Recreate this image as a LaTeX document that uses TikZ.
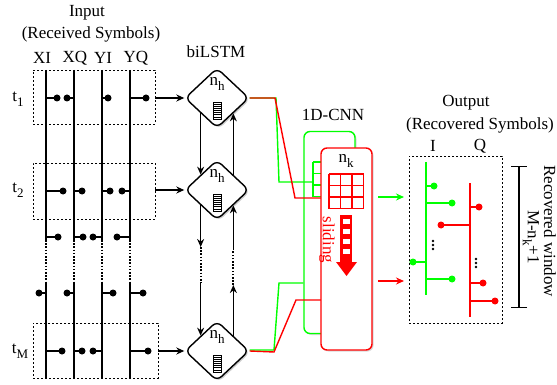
\documentclass[tikz,border=0pt]{standalone}
\usepackage{fontspec}
\setmainfont{Liberation Serif}
\usetikzlibrary{shapes.geometric,arrows.meta,calc,shadows,positioning}

\newcommand{\sub}[1]{\raisebox{-0.3em}{\fontsize{13}{14}\selectfont #1}}

\tikzset{
  lane/.style={line width=2pt},
  dotgap/.style={dash pattern=on 1.6pt off 1.6pt},
  rowbox/.style={draw, dash pattern=on 2pt off 2pt, line width=0.8pt, inner sep=0pt},
  symdot/.style={circle, fill, inner sep=0pt, minimum width=7pt},
  stemln/.style={line width=1.8pt},
  lstm/.style={diamond, draw, line width=1.4pt, rounded corners=6pt, fill=white, inner sep=0pt,
    minimum width=64pt, minimum height=60pt,
    drop shadow={shadow xshift=1.5pt, shadow yshift=-1.5pt, fill=black!40}},
  flow/.style={line width=1.6pt},
  cnnbox/.style={rectangle, rounded corners=6pt, line width=1.4pt, fill=white, inner sep=0pt,
    minimum width=51pt, minimum height=202pt,
    drop shadow={shadow xshift=1.5pt, shadow yshift=-1.5pt, fill=black!30}},
  link/.style={line width=1.4pt},
}

% 3x3 kernel grid: top left x, top left y, colour
\newcommand{\kgrid}[3]{%
  \foreach \i in {0,...,3} {
    \draw[#3, line width=1.2pt] (#1+\i*11.5,#2) -- (#1+\i*11.5,#2+34.5);
    \draw[#3, line width=1.2pt] (#1,#2+\i*11.5) -- (#1+34.5,#2+\i*11.5);
  }}

\begin{document}
\begin{tikzpicture}[x=1pt, y=-1pt, font=\fontsize{17}{20}\selectfont,
  >={Stealth[length=8pt,width=7pt]}]
\useasboundingbox (0,0) rectangle (557,385);

%% input symbols
\node (inTitle) at (87,13) {Input};
\node (inSub) at (91,34) {(Received Symbols)};
\node (colXI) at (42,58) {XI};
\node (colXQ) at (75,58) {XQ};
\node (colYI) at (103,58) {YI};
\node (colYQ) at (136,58) {YQ};

\foreach \c in {46,74,102,130} {
  \draw[lane] (\c,70) -- (\c,240);
  \draw[lane, dotgap] (\c,240) -- (\c,282);
  \draw[lane] (\c,282) -- (\c,378);
}

\foreach \c/\d/\y in {46/57/98, 74/67/98, 102/108/98, 130/146/98,
                      46/63/191, 74/82/191, 102/110/191, 130/122/191,
                      46/58/237, 74/83/237, 102/93/237, 130/117/237,
                      46/39/293, 74/67/293, 102/113/293, 130/143/293,
                      46/62/351, 74/82/351, 102/93/351, 130/148/351}
  \draw[stemln] (\c,\y) -- (\d,\y) node[symdot] {};

\node[rowbox, minimum width=122pt, minimum height=54pt] (in1) at (94,97) {};
\node[rowbox, minimum width=122pt, minimum height=56pt] (in2) at (94,191) {};
\node[rowbox, minimum width=125pt, minimum height=55pt] (inM) at (95.5,350.5) {};

\node (t1) at (18,99) {t\sub{1}};
\node (t2) at (18,190) {t\sub{2}};
\node (tM) at (20,351) {t\sub{M}};

%% biLSTM
\node (lstmTitle) at (216,52) {biLSTM};
\node[lstm] (h1) at (217,98) {};
\node[lstm] (h2) at (217,190) {};
\node[lstm] (hM) at (217,351) {};

\foreach \h in {h1,h2,hM} {
  \node (\h-n) at ($(\h)+(0,-14)$) {n\sub{h}};
  \draw[line width=0.7pt] ($(\h)+(-4,4)$) rectangle ($(\h)+(4,21)$);
  \foreach \k in {1,...,7}
    \draw[line width=0.7pt] ($(\h)+(-4,4+\k*17/8)$) -- ++(8,0);
}

\draw[->, flow] (in1.east |- h1.west) -- (h1.west);
\draw[->, flow] (in2.east |- h2.west) -- (h2.west);
\draw[->, flow] (inM.east |- hM.west) -- (hM.west);

\coordinate (dnA) at (h2.south west |- 0,247);
\coordinate (dnB) at (h2.south west |- 0,283);
\coordinate (upA) at (h2.south east |- 0,250);
\coordinate (upB) at (h2.south east |- 0,285);

\draw[->, flow] (h1.south west) -- (h2.north west);
\draw[->, flow] (h2.north east) -- (h1.south east);
\draw[->, flow] (h2.south west) -- (dnA);
\draw[flow, line width=2pt, dotgap] (dnA) -- (dnB);
\draw[->, flow] (dnB) -- (hM.north west);
\draw[->, flow] (hM.north east) -- (upB);
\draw[flow, line width=2pt, dotgap] (upB) -- (upA);
\draw[->, flow] (upA) -- (h2.south east);

%% 1D-CNN
\node (cnnTitle) at (333,115) {1D-CNN};
\node[cnnbox, draw=green] (cnnG) at (329.5,232.5) {};
\kgrid{313}{162}{green}

\coordinate (gTopA) at (276,98);
\coordinate (gTopB) at (279,182);
\coordinate (gTopC) at (313,182);
\coordinate (gBotA) at (274,350);
\coordinate (gBotB) at (279,283);
\coordinate (rTopA) at (275,98);
\coordinate (rTopB) at (295,198);
\coordinate (rBotA) at (274,352);
\coordinate (rBotB) at (296,300);

\draw[link, green] (h1.east) -- (gTopA) -- (gTopB) -- (gTopC);
\draw[link, green] ([yshift=1pt]hM.east) -- (gBotA) -- (gBotB) -- (cnnG.west |- gBotB);
\draw[link, red] (h1.east) -- (rTopA) -- (rTopB) -- (cnnG.east |- rTopB);
\draw[link, red] (hM.east) -- (rBotA) -- (rBotB) -- (cnnG.east |- rBotB);

\node[cnnbox, draw=red] (cnnR) at (346.5,249) {};
\node (nk) at (346,161) {n\sub{k}};
\kgrid{329}{174}{red}

\fill[red] (340,215) rectangle (352,262);
\foreach \s in {219,229,239,249}
  \fill[white] (342.5,\s) rectangle (349.5,\s+5);
\fill[red] (336,262) -- (357,262) -- (346.5,276) -- cycle;
\node[rotate=-90, text=red] (slide) at (327,240) {sliding};

%% output symbols
\node (outTitle) at (466,103) {Output};
\node (outSub) at (480,125) {(Recovered Symbols)};
\node (colI) at (433,146) {I};
\node (colQ) at (480,146) {Q};

\coordinate (oG1) at (378,197);
\coordinate (oG2) at (404,197);
\coordinate (oR1) at (378,281);
\coordinate (oR2) at (404,281);
\draw[->, link, green] (oG1) -- (oG2);
\draw[->, link, red] (oR1) -- (oR2);

\node[rowbox, minimum width=93pt, minimum height=167pt] (outbox) at (455.5,239.5) {};

\draw[stemln, green] (426,162) -- (426,295);
\foreach \d/\y in {434/186, 452/203, 413/262, 452/279}
  \draw[stemln, green] (426,\y) -- (\d,\y) node[symdot, green] {};
\draw[stemln, red] (470,183) -- (470,317);
\foreach \d/\y in {479/207, 441/225, 483/283, 495/301}
  \draw[stemln, red] (470,\y) -- (\d,\y) node[symdot, red] {};

\foreach \v in {-4,0,4} {
  \fill (433,245+\v) circle (1.3);
  \fill (476,263+\v) circle (1.3);
}

\coordinate (winTop) at (519,166);
\coordinate (winBot) at (519,308);
\draw[{Bar[width=16pt]}-{Bar[width=16pt]}, line width=1.5pt] (winTop) -- (winBot);
\node[rotate=-90] (winLen) at (531,237) {M-n\sub{k}+1};
\node[rotate=-90] (winLab) at (550,231) {Recovered window};
\end{tikzpicture}
\end{document}
